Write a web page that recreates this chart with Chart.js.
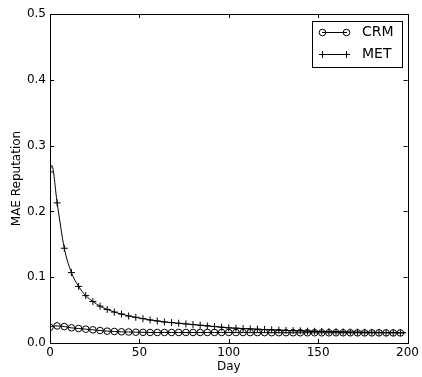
<!DOCTYPE html>
<html><head><meta charset="utf-8">
<script src="https://cdn.jsdelivr.net/npm/chart.js@4/dist/chart.umd.min.js"></script>
<style>html,body{margin:0;padding:0;background:#fff}</style>
</head><body>
<canvas id="c" width="422" height="377"></canvas>
<script>
// ---- data ----
const days = [0,1,4,8,12,16,20,24,28,32,36,40,44,48,52,56,60,64,68,72,76,80,84,88,92,96,100,104,108,112,116,120,124,128,132,136,140,144,148,152,156,160,164,168,172,176,180,184,188,192,196,199];
const crmValues = [0.024,0.025,0.026,0.025,0.023,0.022,0.021,0.020,0.019,0.018,0.0175,0.017,0.0167,0.0164,0.0162,0.016,0.016,0.016,0.016,0.016,0.016,0.016,0.016,0.016,0.016,0.016,0.016,0.0159,0.0159,0.0158,0.0158,0.0158,0.0157,0.0157,0.0157,0.0156,0.0156,0.0156,0.0156,0.0155,0.0155,0.0155,0.0155,0.0155,0.0154,0.0154,0.0154,0.0154,0.0154,0.0153,0.0153,0.0153];
const metValues = [0.260,0.270,0.213,0.144,0.107,0.086,0.072,0.063,0.056,0.051,0.047,0.044,0.041,0.039,0.037,0.035,0.0335,0.032,0.031,0.030,0.029,0.028,0.027,0.026,0.025,0.024,0.023,0.0225,0.022,0.0215,0.021,0.0205,0.020,0.0195,0.019,0.0188,0.0185,0.018,0.0178,0.0175,0.0172,0.017,0.0168,0.0166,0.0165,0.0163,0.0162,0.016,0.016,0.016,0.0158,0.0158];
const seriesNames = ['CRM','MET'];
const xTicks = [0,50,100,150,200];
const yTicks = [0.0,0.1,0.2,0.3,0.4,0.5];
const xTitle = 'Day';
const yTitle = 'MAE Reputation';
const markerEvery = 4;

const FONT = 'DejaVu Sans';
const isMarker = (ctx) => { const d = days[ctx.dataIndex]; return d % markerEvery === 0 && d <= 196; };

const framePlugin = {
  id: 'frame',
  afterDraw(chart) {
    const {ctx, chartArea: a, scales} = chart;
    ctx.save();
    ctx.strokeStyle = '#000';
    ctx.lineWidth = 1;
    ctx.strokeRect(Math.round(a.left) + 0.5, Math.round(a.top) + 0.5, Math.round(a.right - a.left), Math.round(a.bottom - a.top));
    const tl = 4;
    ctx.beginPath();
    xTicks.forEach(v => {
      const x = Math.round(scales.x.getPixelForValue(v)) + 0.5;
      ctx.moveTo(x, a.bottom); ctx.lineTo(x, a.bottom - tl);
      ctx.moveTo(x, a.top); ctx.lineTo(x, a.top + tl);
    });
    yTicks.forEach(v => {
      const y = Math.round(scales.y.getPixelForValue(v)) + 0.5;
      ctx.moveTo(a.left, y); ctx.lineTo(a.left + tl, y);
      ctx.moveTo(a.right, y); ctx.lineTo(a.right - tl, y);
    });
    ctx.stroke();
    // legend
    const bx = 312.5, by = 21.5, bw = 90, bh = 46;
    ctx.fillStyle = '#fff';
    ctx.fillRect(bx, by, bw, bh);
    ctx.strokeRect(bx, by, bw, bh);
    const rows = [32.5, 54.5];
    const styles = ['circle','cross'];
    rows.forEach((y, i) => {
      ctx.beginPath();
      ctx.moveTo(322, y); ctx.lineTo(347, y);
      ctx.stroke();
      [322.5, 346.5].forEach(px => {
        ctx.beginPath();
        if (styles[i] === 'circle') {
          ctx.arc(px, y, 3.3, 0, Math.PI * 2);
        } else {
          ctx.moveTo(px - 3.5, y); ctx.lineTo(px + 3.5, y);
          ctx.moveTo(px, y - 3.5); ctx.lineTo(px, y + 3.5);
        }
        ctx.stroke();
      });
      ctx.fillStyle = '#000';
      ctx.font = '14px "' + FONT + '"';
      ctx.textBaseline = 'middle';
      ctx.textAlign = 'left';
      ctx.fillText(seriesNames[i], 362, y);
    });
    ctx.restore();
  }
};

new Chart(document.getElementById('c'), {
  type: 'line',
  data: {
    labels: days,
    datasets: [
      {
        label: seriesNames[0],
        data: days.map((d, i) => ({x: d, y: crmValues[i]})),
        borderColor: '#000', borderWidth: 1,
        backgroundColor: 'rgba(0,0,0,0)',
        pointStyle: 'circle',
        pointRadius: (ctx) => isMarker(ctx) ? 3.3 : 0,
        pointBorderColor: '#000', pointBackgroundColor: 'rgba(0,0,0,0)',
        pointBorderWidth: 1,
        cubicInterpolationMode: 'monotone',
        clip: 0
      },
      {
        label: seriesNames[1],
        data: days.map((d, i) => ({x: d, y: metValues[i]})),
        borderColor: '#000', borderWidth: 1,
        backgroundColor: 'rgba(0,0,0,0)',
        pointStyle: 'cross',
        pointRadius: (ctx) => isMarker(ctx) ? 3.5 : 0,
        pointBorderColor: '#000', pointBorderWidth: 1,
        cubicInterpolationMode: 'monotone',
        clip: 0
      }
    ]
  },
  options: {
    responsive: false, animation: false, devicePixelRatio: 1,
    layout: {padding: {top: 14, right: 14, left: 0, bottom: 0}},
    plugins: {legend: {display: false}, tooltip: {enabled: false}},
    scales: {
      x: {
        type: 'linear', min: 0, max: 200,
        afterBuildTicks: s => { s.ticks = xTicks.map(v => ({value: v})); },
        afterFit: s => { s.height = 34; },
        grid: {display: false, drawTicks: false},
        border: {display: false},
        ticks: {font: {family: FONT, size: 12}, color: '#000', padding: 3, maxRotation: 0},
        title: {display: true, text: xTitle, font: {family: FONT, size: 12}, color: '#000', padding: {top: 0, bottom: 3}}
      },
      y: {
        type: 'linear', min: 0, max: 0.5,
        afterBuildTicks: s => { s.ticks = yTicks.map(v => ({value: v})); },
        afterFit: s => { s.width = 50; },
        grid: {display: false, drawTicks: false},
        border: {display: false},
        ticks: {font: {family: FONT, size: 12}, color: '#000', padding: 4, callback: v => v.toFixed(1)},
        title: {display: true, text: yTitle, font: {family: FONT, size: 12}, color: '#000', padding: {top: 10, bottom: 0}}
      }
    }
  },
  plugins: [framePlugin]
});
</script>
</body></html>
